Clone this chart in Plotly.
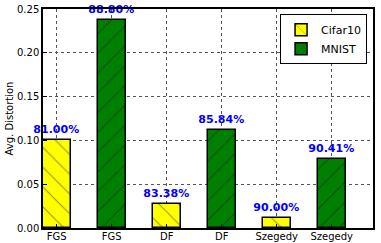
import plotly.graph_objects as go

categories = ["FGS", "FGS", "DF", "DF", "Szegedy", "Szegedy"]
cifar_pos = [0, 2, 4]
mnist_pos = [1, 3, 5]
cifar_vals = [0.100, 0.0274, 0.0118]
mnist_vals = [0.237, 0.112, 0.079]
cifar_labels = ["81.00%", "83.38%", "90.00%"]
mnist_labels = ["88.80%", "85.84%", "90.41%"]

FONT = "DejaVu Sans"
fig = go.Figure()
fig.add_trace(go.Bar(
    x=cifar_pos, y=cifar_vals, name="Cifar10", width=0.5,
    text=cifar_labels, textposition="outside", cliponaxis=False, constraintext="none",
    textfont=dict(color="#0000ff", size=11, family=FONT, weight="bold"),
    marker=dict(color="#ffff00", line=dict(color="black", width=1.5),
                pattern=dict(shape="\\", size=14, solidity=0.08, fgcolor="#333333", bgcolor="#ffff00")),
))
fig.add_trace(go.Bar(
    x=mnist_pos, y=mnist_vals, name="MNIST", width=0.5,
    text=mnist_labels, textposition="outside", cliponaxis=False, constraintext="none",
    textfont=dict(color="#0000ff", size=11, family=FONT, weight="bold"),
    marker=dict(color="#008000", line=dict(color="black", width=1.5),
                pattern=dict(shape="/", size=14, solidity=0.08, fgcolor="#1a1a1a", bgcolor="#008000")),
))
fig.update_layout(
    width=381, height=243,
    margin=dict(l=43, r=8, t=9, b=15, autoexpand=False),
    paper_bgcolor="white", plot_bgcolor="white",
    font=dict(family=FONT, size=10, color="black"),
    showlegend=True,
    legend=dict(x=0.982, y=0.976, xanchor="right", yanchor="top",
                bordercolor="black", borderwidth=1, bgcolor="white",
                font=dict(size=11), itemwidth=30, tracegroupgap=0),
    bargap=0,
)
fig.update_xaxes(
    range=[-0.25, 5.75], tickvals=cifar_pos + mnist_pos,
    ticktext=[categories[i] for i in cifar_pos + mnist_pos],
    showline=True, linecolor="black", linewidth=1.5, mirror=True,
    showgrid=True, gridcolor="#555555", griddash="dot", gridwidth=1,
    ticks="inside", ticklen=4, tickcolor="black", zeroline=False,
    tickfont=dict(size=10), automargin=False, ticklabelstandoff=-2,
)
fig.update_yaxes(
    range=[0, 0.25], tickvals=[0, 0.05, 0.10, 0.15, 0.20, 0.25],
    tickformat=".2f", title=dict(text="Avg. Distortion", font=dict(size=10), standoff=1),
    showline=True, linecolor="black", linewidth=1.5, mirror=True,
    showgrid=True, gridcolor="#555555", griddash="dot", gridwidth=1,
    ticks="inside", ticklen=4, tickcolor="black", zeroline=False,
    tickfont=dict(size=10), automargin=False,
)
fig.write_html("out.html", config={"displayModeBar": False},
               post_script="document.body.style.margin='0';")
